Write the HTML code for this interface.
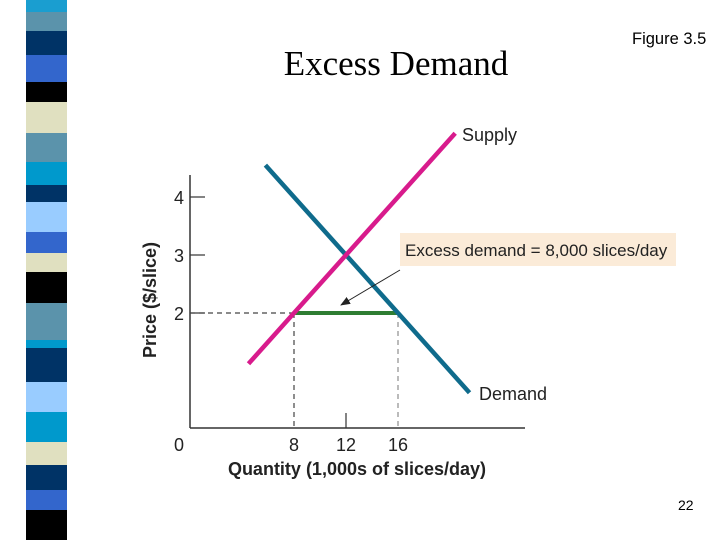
<!DOCTYPE html>
<html><head><meta charset="utf-8"><style>
body{margin:0;width:720px;height:540px;background:#fff;overflow:hidden;position:relative;font-family:"Liberation Sans",sans-serif}
.s{position:absolute;left:26px;width:41px}
</style></head><body>
<div id="stripes"></div>
<div style="position:absolute;left:240px;top:44px;width:312px;text-align:center;font-family:'Liberation Serif',serif;font-size:35px;color:#000">Excess Demand</div>
<div style="position:absolute;left:632px;top:30px;font-size:16.5px">Figure 3.5</div>
<div style="position:absolute;left:678px;top:497px;font-size:14px">22</div>
<svg id="chart" width="720" height="540" style="position:absolute;left:0;top:0">
<defs><marker id="ah" markerWidth="10" markerHeight="8" refX="9" refY="4" orient="auto"><path d="M0,0 L10,4 L0,8 z" fill="#222"/></marker></defs>
</svg>
<script>
const stripeColors=["#1a9ed0","#5b93ab","#003366","#3366cc","#000","#e0e0c0","#5b93ab","#0099cc","#003366","#99ccff","#3366cc","#e0e0c0","#000","#5b93ab","#0099cc","#003366","#99ccff","#0099cc","#e0e0c0","#003366","#3366cc","#000"];
const stripeEdges=[0,12,31,55,82,102,133,162,185,202,232,253,272,303,340,348,382,412,442,465,490,510,540];
const st=document.getElementById('stripes');
stripeColors.forEach((c,i)=>{const d=document.createElement('div');d.className='s';


d.style.top=stripeEdges[i]+'px';d.style.height=(stripeEdges[i+1]-stripeEdges[i])+'px';d.style.background=c;st.appendChild(d);});

const xTicks=[8,12,16];
const yTicks=[2,3,4];
const supplyQ=[4.5,20.4];
const demandQ=[5.8,21.5];
const supply=q=>2+(q-8)/4;
const demand=q=>6-q/4;
const priceLevel=2;
const qs=8, qd=16;

const X=q=>190+q*13, Y=p=>429-p*58;
const svg=document.getElementById('chart');const NS='http://www.w3.org/2000/svg';
function el(t,a,name,txt){const e=document.createElementNS(NS,t);for(const k in a)e.setAttribute(k,a[k]);


if(txt!==undefined)e.textContent=txt;svg.appendChild(e);return e;}
el('line',{x1:X(0),y1:Y(0)-1,x2:525,y2:Y(0)-1,stroke:'#333','stroke-width':1.5},'x-axis');
el('line',{x1:X(0),y1:Y(0)-1,x2:X(0),y2:175,stroke:'#333','stroke-width':1.5},'y-axis');
yTicks.forEach(v=>{el('line',{x1:X(0),y1:Y(v),x2:X(0)+15,y2:Y(v),stroke:'#333','stroke-width':1.2},'y-tick');
el('text',{x:179,y:Y(v)+7,'font-size':18,fill:'#222','text-anchor':'middle','font-family':'Liberation Sans'},'y-tick-label',v);});
el('text',{x:179,y:451,'font-size':18,fill:'#222','text-anchor':'middle'},'origin-label','0');
xTicks.forEach(v=>el('text',{x:X(v),y:451,'font-size':18,fill:'#222','text-anchor':'middle'},'x-tick-label',v));
el('line',{x1:X(12),y1:Y(0)-1,x2:X(12),y2:Y(0)-16,stroke:'#333','stroke-width':1.2},'x-tick');
el('line',{x1:X(0),y1:Y(priceLevel),x2:X(qs),y2:Y(priceLevel),stroke:'#444','stroke-width':1.2,'stroke-dasharray':'5,4'},'price-guide');
el('line',{x1:X(qs),y1:Y(priceLevel),x2:X(qs),y2:Y(0),stroke:'#444','stroke-width':1.2,'stroke-dasharray':'5,4'},'qs-guide');
el('line',{x1:X(qd),y1:Y(priceLevel),x2:X(qd),y2:Y(0),stroke:'#777','stroke-width':1,'stroke-dasharray':'5,4'},'qd-guide');
el('line',{x1:X(qs),y1:Y(priceLevel),x2:X(qd),y2:Y(priceLevel),stroke:'#2e7d32','stroke-width':4},'excess-demand-segment');
el('line',{x1:X(demandQ[0]),y1:Y(demand(demandQ[0])),x2:X(demandQ[1]),y2:Y(demand(demandQ[1])),stroke:'#0f6b8c','stroke-width':4.5},'demand-line');
el('line',{x1:X(supplyQ[0]),y1:Y(supply(supplyQ[0])),x2:X(supplyQ[1]),y2:Y(supply(supplyQ[1])),stroke:'#d81b8c','stroke-width':4.5},'supply-line');
el('text',{x:462,y:141,'font-size':18,fill:'#222'},'supply-label','Supply');
el('text',{x:479,y:400,'font-size':18,fill:'#222'},'demand-label','Demand');
el('rect',{x:400,y:233,width:276,height:33,fill:'#fbebd8'},'annotation-box');
el('text',{x:405,y:256,'font-size':17,fill:'#222'},'annotation-text','Excess demand = 8,000 slices/day');
el('line',{x1:400,y1:270,x2:341,y2:305,stroke:'#222','stroke-width':1,'marker-end':'url(#ah)'},'annotation-arrow');
el('text',{x:357,y:475,'font-size':18,'font-weight':'bold',fill:'#222','text-anchor':'middle'},'x-axis-title','Quantity (1,000s of slices/day)');
el('text',{x:156,y:300,'font-size':18,'font-weight':'bold',fill:'#222','text-anchor':'middle',transform:'rotate(-90 156 300)'},'y-axis-title','Price ($/slice)');
</script>
</body></html>
